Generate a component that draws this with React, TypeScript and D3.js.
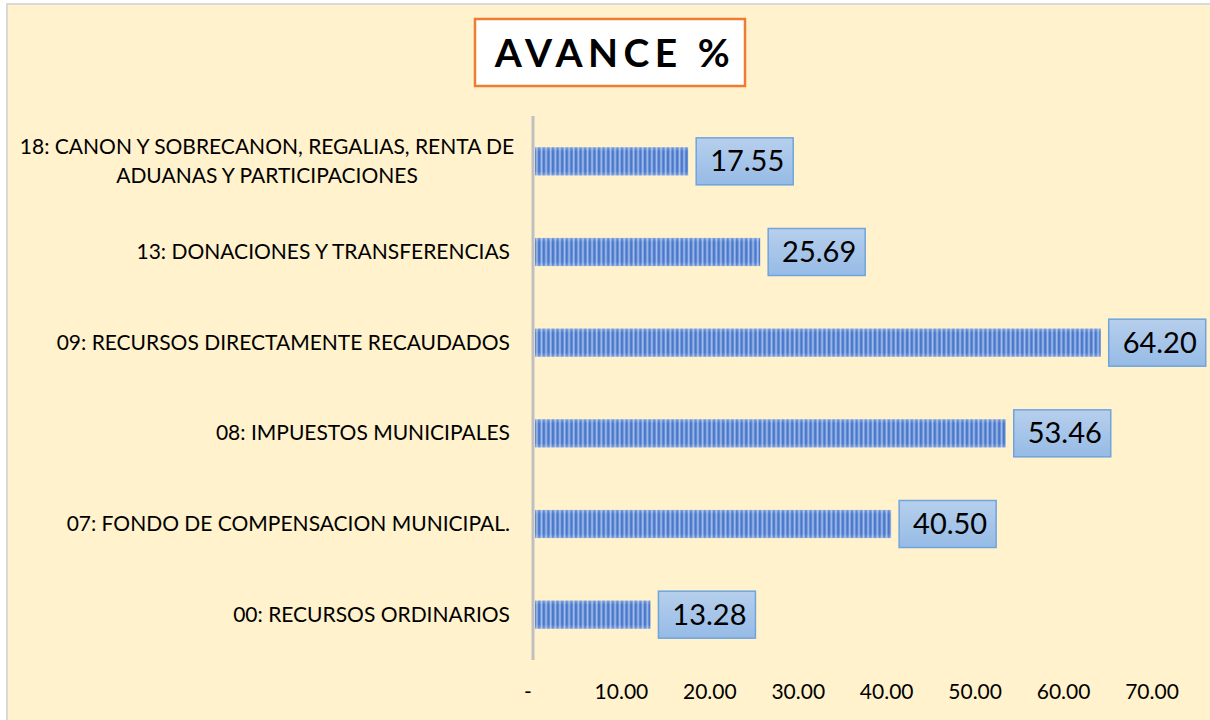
import React from "react";
import * as d3 from "d3";

const categories: string[] = [
  "18: CANON Y SOBRECANON, REGALIAS, RENTA DE|ADUANAS Y PARTICIPACIONES",
  "13: DONACIONES Y TRANSFERENCIAS",
  "09: RECURSOS DIRECTAMENTE RECAUDADOS",
  "08: IMPUESTOS MUNICIPALES",
  "07: FONDO DE COMPENSACION MUNICIPAL.",
  "00: RECURSOS ORDINARIOS",
];
const values: number[] = [17.55, 25.69, 64.2, 53.46, 40.5, 13.28];
const tickValues: number[] = [0, 10, 20, 30, 40, 50, 60, 70];
const tickLabels: string[] = ["-", "10.00", "20.00", "30.00", "40.00", "50.00", "60.00", "70.00"];
const title = "AVANCE %";

const W = 1210;
const H = 720;
const FONT = "Lato, 'Open Sans', sans-serif";

export default function App() {
  const x = d3.scaleLinear().domain([0, 70]).range([533, 1152]);
  const y = d3
    .scaleBand<string>()
    .domain(categories)
    .range([116, 660])
    .paddingInner(0.69)
    .paddingOuter(0.345);
  const bw = y.bandwidth();

  return (
    <div style={{ position: "fixed", left: 0, top: 0, width: W, height: H }}>
      <svg width={W} height={H} style={{ display: "block" }}>
        <defs>
          <pattern id="stripes" patternUnits="userSpaceOnUse" width={4.6} height={10}>
            <rect x={0} y={0} width={4.6} height={10} fill="#4a79cc" />
            <rect x={2.4} y={0} width={1.8} height={10} fill="#a6bfea" />
          </pattern>
          <linearGradient id="barShade" x1="0" y1="0" x2="0" y2="1">
            <stop offset="0" stopColor="#ffffff" stopOpacity={0.25} />
            <stop offset="0.15" stopColor="#ffffff" stopOpacity={0} />
            <stop offset="0.85" stopColor="#ffffff" stopOpacity={0} />
            <stop offset="1" stopColor="#ffffff" stopOpacity={0.25} />
          </linearGradient>
          <linearGradient id="boxFill" x1="0" y1="0" x2="0" y2="1">
            <stop offset="0" stopColor="#b7cfec" />
            <stop offset="1" stopColor="#96bbe6" />
          </linearGradient>
        </defs>
        <rect x={0} y={0} width={W} height={H} fill="#ffffff" />
        <rect x={7} y={4} width={W} height={H} fill="#fff2cc" stroke="#d9d9d9" strokeWidth={2} />

        {/* title */}
        <rect x={475} y={19} width={270} height={67} fill="#ffffff" stroke="#ed7d31" strokeWidth={2.5} />
        <text
          x={615}
          y={67}
          textAnchor="middle"
          fontFamily={FONT}
          fontWeight={700}
          fontSize={39}
          letterSpacing={5.5}
          fill="#000"
        >
          {title}
        </text>

        {/* bars */}
        {categories.map((c, i) => {
          const y0 = y(c)!;
          const x1 = x(values[i]);
          return (
            <g key={c}>
              <rect x={535} y={y0} width={x1 - 535} height={bw} fill="url(#stripes)" />
              <rect x={535} y={y0} width={x1 - 535} height={bw} fill="url(#barShade)" />
            </g>
          );
        })}

        {/* axis line */}
        <line x1={533} x2={533} y1={116} y2={660} stroke="#bfbfbf" strokeWidth={3} />

        {/* data labels */}
        {categories.map((c, i) => {
          const cy = y(c)! + bw / 2;
          const bx = x(values[i]) + 8;
          return (
            <g key={"l" + c}>
              <rect x={bx} y={cy - 23.5} width={97} height={47} fill="url(#boxFill)" stroke="#6fa5dc" strokeWidth={1.5} />
              <text x={bx + 51} y={cy + 10} textAnchor="middle" fontFamily={FONT} fontSize={29} fill="#000">
                {values[i].toFixed(2)}
              </text>
            </g>
          );
        })}

        {/* category labels */}
        {categories.map((c) => {
          const cy = y(c)! + bw / 2;
          const lines = c.split("|");
          if (lines.length === 1) {
            return (
              <text key={"c" + c} x={510} y={cy + 7} textAnchor="end" fontFamily={FONT} fontSize={21} fill="#000">
                {c}
              </text>
            );
          }
          return (
            <g key={"c" + c}>
              {lines.map((ln, k) => (
                <text
                  key={k}
                  x={267}
                  y={cy - 7.5 + k * 29}
                  textAnchor="middle"
                  fontFamily={FONT}
                  fontSize={21}
                  fill="#000"
                >
                  {ln}
                </text>
              ))}
            </g>
          );
        })}

        {/* tick labels */}
        {tickValues.map((t, i) => (
          <text
            key={"t" + t}
            x={x(t) - (t === 0 ? 5 : 0)}
            y={699}
            textAnchor="middle"
            fontFamily={FONT}
            fontSize={21}
            fill="#000"
          >
            {tickLabels[i]}
          </text>
        ))}
      </svg>
    </div>
  );
}
